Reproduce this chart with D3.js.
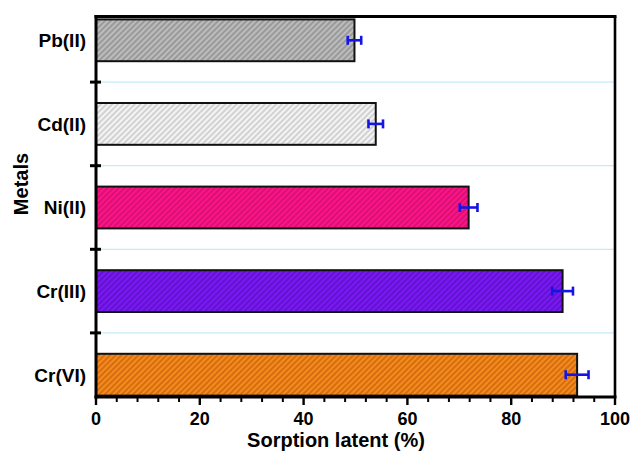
<!DOCTYPE html>
<meta charset="utf-8">
<style>
body { margin: 0; background: #fff; }
.canvas text { font-family: "Liberation Sans", Arial, sans-serif; font-weight: bold; fill: #000; }
.cat text { font-size: 19px; text-anchor: end; }
.xlab { font-size: 18px; text-anchor: middle; }
.title { font-size: 20px; text-anchor: middle; }
</style>
<svg class="canvas"></svg>
<script src="https://cdn.jsdelivr.net/npm/d3@7"></script>
<script>

var metals = ["Pb(II)", "Cd(II)", "Ni(II)", "Cr(III)", "Cr(VI)"];
var sorption = [49.8, 53.9, 71.8, 89.9, 92.7];
var errs = [1.3, 1.4, 1.7, 2.0, 2.2];
var xTicks = [0, 20, 40, 60, 80, 100];
var baseCols = ["#bcbcbc", "#f4f4f4", "#fc1489", "#7c18f6", "#f68a1c"];
var lineCols = ["#8c8c8c", "#c4c4c4", "#cc0e6a", "#5610bc", "#c4620c"];

var width = 630, height = 451;
var LEFT = 96, RIGHT = 615, TOP = 16.5, BOTTOM = 397;

var canvas = d3.select(".canvas")
	.attr("width", width)
	.attr("height", height);

var x = d3.scaleLinear().domain([0, 100]).range([LEFT, RIGHT]);
var y = d3.scaleBand().domain(metals).range([-1.5, 416.5])
	.paddingInner(0.5).paddingOuter(0.25);

// hatch patterns
var defs = canvas.append("defs");
metals.forEach(function(m, i) {
	var p = defs.append("pattern")
		.attr("id", "hatch" + i)
		.attr("patternUnits", "userSpaceOnUse")
		.attr("width", 4).attr("height", 4)
		.attr("patternTransform", "rotate(45)");
	p.append("rect").attr("width", 4).attr("height", 4).attr("fill", baseCols[i]);
	p.append("line").attr("x1", 1).attr("y1", 0).attr("x2", 1).attr("y2", 4)
		.attr("stroke", lineCols[i]).attr("stroke-width", 1.4);
});

// light grid between categories
var mids = metals.slice(0, -1).map(function(m) {
	return y(m) + y.bandwidth() + (y.step() - y.bandwidth()) / 2;
});
canvas.selectAll(".grid").data(mids)
	.enter().append("line")
	.attr("class", "grid")
	.attr("x1", LEFT).attr("x2", RIGHT)
	.attr("y1", function(d) { return d; })
	.attr("y2", function(d) { return d; })
	.attr("stroke", "#c4ecf4").attr("stroke-width", 1.3);

// bars
canvas.selectAll(".bar").data(metals)
	.enter().append("rect")
	.attr("class", "bar")
	.attr("x", x(0))
	.attr("y", function(d) { return y(d); })
	.attr("width", function(d, i) { return x(sorption[i]) - x(0); })
	.attr("height", y.bandwidth())
	.attr("fill", function(d, i) { return "url(#hatch" + i + ")"; })
	.attr("stroke", "#111").attr("stroke-width", 2);

// error bars
var eb = canvas.selectAll(".err").data(metals)
	.enter().append("g")
	.attr("class", "err")
	.attr("stroke", "#1414e6").attr("stroke-width", 2.6);
eb.append("line")
	.attr("x1", function(d, i) { return x(sorption[i] - errs[i]); })
	.attr("x2", function(d, i) { return x(sorption[i] + errs[i]); })
	.attr("y1", function(d) { return y(d) + y.bandwidth() / 2; })
	.attr("y2", function(d) { return y(d) + y.bandwidth() / 2; });
[-1, 1].forEach(function(s) {
	eb.append("line")
		.attr("x1", function(d, i) { return x(sorption[i] + s * errs[i]); })
		.attr("x2", function(d, i) { return x(sorption[i] + s * errs[i]); })
		.attr("y1", function(d) { return y(d) + y.bandwidth() / 2 - 4.5; })
		.attr("y2", function(d) { return y(d) + y.bandwidth() / 2 + 4.5; });
});

// frame
canvas.append("line").attr("x1", LEFT - 1.5).attr("x2", RIGHT + 1.5)
	.attr("y1", TOP).attr("y2", TOP).attr("stroke", "#000").attr("stroke-width", 3);
canvas.append("line").attr("x1", RIGHT).attr("x2", RIGHT)
	.attr("y1", TOP).attr("y2", BOTTOM).attr("stroke", "#000").attr("stroke-width", 2.6);

// x axis
var minor = d3.range(0, 101, 4).filter(function(v) { return v % 20 != 0; });
canvas.selectAll(".minor").data(minor)
	.enter().append("line")
	.attr("x1", function(d) { return x(d); }).attr("x2", function(d) { return x(d); })
	.attr("y1", BOTTOM).attr("y2", BOTTOM + 5)
	.attr("stroke", "#000").attr("stroke-width", 2);
canvas.selectAll(".major").data(xTicks)
	.enter().append("line")
	.attr("x1", function(d) { return x(d); }).attr("x2", function(d) { return x(d); })
	.attr("y1", BOTTOM).attr("y2", BOTTOM + 8)
	.attr("stroke", "#000").attr("stroke-width", 2.4);
canvas.append("line").attr("x1", LEFT - 1.5).attr("x2", RIGHT + 1.5)
	.attr("y1", BOTTOM).attr("y2", BOTTOM).attr("stroke", "#000").attr("stroke-width", 3);
canvas.selectAll(".xlab").data(xTicks)
	.enter().append("text")
	.attr("class", "xlab")
	.attr("x", function(d) { return x(d); })
	.attr("y", 425)
	.text(function(d) { return d; });

// y axis
canvas.selectAll(".ytick").data(mids)
	.enter().append("line")
	.attr("x1", LEFT - 6).attr("x2", LEFT + 5)
	.attr("y1", function(d) { return d; }).attr("y2", function(d) { return d; })
	.attr("stroke", "#000").attr("stroke-width", 3);
canvas.append("line").attr("x1", LEFT).attr("x2", LEFT)
	.attr("y1", TOP - 1.5).attr("y2", BOTTOM + 1.5).attr("stroke", "#000").attr("stroke-width", 3);

var cat = canvas.append("g").attr("class", "cat");
cat.selectAll("text").data(metals)
	.enter().append("text")
	.attr("x", 86)
	.attr("y", function(d) { return y(d) + y.bandwidth() / 2; })
	.attr("dy", ".36em")
	.text(function(d) { return d; });

// titles
canvas.append("text").attr("class", "title")
	.attr("x", 336).attr("y", 447)
	.text("Sorption latent (%)");
canvas.append("text").attr("class", "title")
	.attr("transform", "translate(28,184) rotate(-90)")
	.text("Metals");

</script>
